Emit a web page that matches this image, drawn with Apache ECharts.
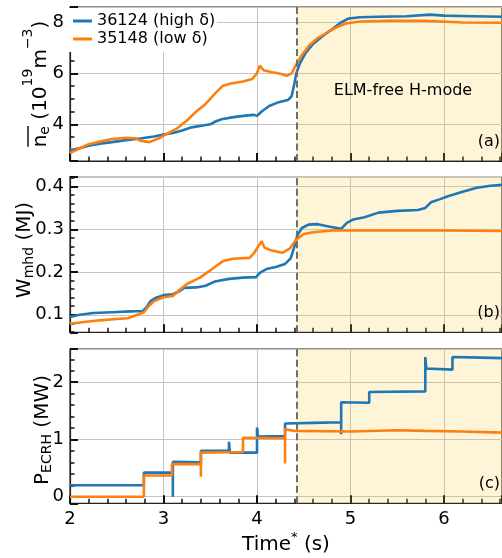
<!DOCTYPE html>
<html>
<head>
<meta charset="utf-8">
<script src="https://cdn.jsdelivr.net/npm/echarts@6/dist/echarts.min.js"></script>
<style>html,body{margin:0;padding:0;background:#fff}#c{width:502px;height:558px}</style>
</head>
<body>
<div id="c"></div>
<script>
// ---------- data ----------
const seriesNames = ['36124 (high δ)', '35148 (low δ)'];
const hModeStart = 4.42;
const xRange = [2, 6.62];

// panel (a): line-averaged density, 10^19 m^-3
const neHigh = [[2.0,2.98],[2.1,3.06],[2.2,3.16],[2.32,3.24],[2.45,3.3],[2.6,3.38],[2.75,3.44],[2.9,3.52],[3.0,3.6],[3.1,3.66],[3.2,3.76],[3.3,3.88],[3.42,3.95],[3.5,4.0],[3.55,4.1],[3.62,4.2],[3.75,4.28],[3.9,4.35],[3.97,4.37],[4.0,4.33],[4.05,4.5],[4.13,4.72],[4.22,4.85],[4.33,4.95],[4.37,5.1],[4.4,5.6],[4.42,6.0],[4.46,6.4],[4.52,6.8],[4.6,7.15],[4.7,7.45],[4.81,7.75],[4.9,8.0],[4.98,8.15],[5.1,8.2],[5.3,8.22],[5.6,8.24],[5.85,8.3],[6.0,8.26],[6.3,8.24],[6.62,8.22]];
const neLow = [[2.0,2.87],[2.1,3.05],[2.2,3.22],[2.32,3.32],[2.45,3.42],[2.6,3.47],[2.7,3.45],[2.75,3.36],[2.85,3.3],[2.95,3.45],[3.05,3.65],[3.15,3.85],[3.25,4.15],[3.35,4.5],[3.45,4.8],[3.55,5.2],[3.63,5.5],[3.72,5.6],[3.85,5.68],[3.95,5.78],[4.0,6.0],[4.03,6.3],[4.07,6.12],[4.15,6.05],[4.25,5.98],[4.32,5.9],[4.37,6.0],[4.42,6.35],[4.48,6.72],[4.56,7.1],[4.65,7.38],[4.75,7.6],[4.85,7.8],[4.95,7.95],[5.1,8.03],[5.4,8.06],[5.8,8.06],[6.2,7.99],[6.62,7.98]];

// panel (b): stored energy, MJ
const wHigh = [[2.0,0.095],[2.1,0.1],[2.25,0.104],[2.45,0.106],[2.65,0.108],[2.78,0.109],[2.82,0.118],[2.86,0.132],[2.92,0.14],[3.0,0.146],[3.1,0.148],[3.17,0.155],[3.22,0.163],[3.35,0.164],[3.45,0.168],[3.55,0.178],[3.7,0.184],[3.85,0.187],[3.99,0.188],[4.03,0.198],[4.1,0.207],[4.2,0.212],[4.3,0.219],[4.36,0.232],[4.4,0.26],[4.43,0.285],[4.48,0.303],[4.55,0.311],[4.65,0.312],[4.78,0.306],[4.9,0.301],[4.96,0.315],[5.03,0.323],[5.15,0.328],[5.3,0.339],[5.5,0.343],[5.72,0.345],[5.8,0.35],[5.86,0.363],[5.95,0.37],[6.05,0.378],[6.2,0.388],[6.35,0.397],[6.5,0.402],[6.62,0.404]];
const wLow = [[2.0,0.079],[2.15,0.083],[2.32,0.087],[2.5,0.09],[2.62,0.092],[2.72,0.1],[2.79,0.106],[2.84,0.12],[2.9,0.132],[3.0,0.141],[3.1,0.144],[3.17,0.158],[3.25,0.172],[3.39,0.187],[3.5,0.204],[3.64,0.226],[3.74,0.231],[3.92,0.233],[3.97,0.245],[4.02,0.262],[4.05,0.272],[4.08,0.257],[4.15,0.251],[4.27,0.245],[4.35,0.255],[4.42,0.276],[4.5,0.289],[4.6,0.293],[4.8,0.297],[5.3,0.297],[6.0,0.297],[6.62,0.296]];

// panel (c): ECRH power, MW
const pHigh = [[2.0,0.2],[2.79,0.2],[2.79,0.42],[3.1,0.42],[3.1,0.0],[3.1,0.61],[3.4,0.6],[3.4,0.8],[3.7,0.8],[3.7,0.96],[3.71,0.77],[4.0,0.77],[4.0,1.21],[4.01,1.05],[4.3,1.06],[4.3,1.28],[4.6,1.29],[4.9,1.3],[4.9,1.09],[4.9,1.65],[5.2,1.64],[5.2,1.83],[5.8,1.84],[5.8,2.44],[5.81,2.24],[6.09,2.22],[6.09,2.44],[6.4,2.43],[6.62,2.42]];
const pLow = [[2.0,0.0],[2.79,0.0],[2.79,0.37],[3.09,0.37],[3.09,0.57],[3.4,0.57],[3.4,0.35],[3.4,0.77],[3.85,0.78],[3.85,1.03],[4.3,1.02],[4.3,0.58],[4.3,1.18],[4.4,1.15],[5.0,1.14],[5.5,1.16],[5.8,1.15],[6.2,1.14],[6.62,1.12]];

const yRanges = [[2.56, 8.6], [0.059, 0.423], [-0.115, 2.58]];
const yIntervals = [2, 0.1, 1];
const yMinorSplits = [4, 5, 5];
const panelTags = ['(a)', '(b)', '(c)'];

// ---------- layout ----------
const FONT = 'DejaVu Sans';
const grids = [
  {left: 70, top: 7, width: 432, height: 154},
  {left: 70, top: 176.7, width: 432, height: 155.6},
  {left: 70, top: 349, width: 432, height: 154.3}
];
const BLUE = '#1f77b4', ORANGE = '#ff7f0e';

function tickStyle() { return {show: true, inside: true, length: 8, lineStyle: {color: '#111', width: 2}}; }
function minorStyle(n) { return {show: true, splitNumber: n, length: 4.5, lineStyle: {color: '#111', width: 1.5}}; }
function axisLineStyle() { return {show: true, onZero: false, lineStyle: {color: '#222', width: 1.2}}; }
function splitStyle() { return {show: true, lineStyle: {color: '#c4c4c4', width: 1}}; }

const xAxes = [], yAxes = [], series = [];
grids.forEach((g, i) => {
  const isLast = i === grids.length - 1;
  xAxes.push({
    type: 'value', gridIndex: i, min: xRange[0], max: xRange[1],
    minInterval: 1, maxInterval: 1,
    axisLine: axisLineStyle(),
    axisTick: tickStyle(), minorTick: minorStyle(5),
    splitLine: splitStyle(),
    axisLabel: {show: isLast, showMaxLabel: false, fontSize: 18, fontFamily: FONT, color: '#000', margin: 7},
    name: isLast ? '{m|Time}{sup|*}{m| (s)}' : '',
    nameLocation: 'middle', nameGap: 28,
    nameTextStyle: {rich: {
      m: {fontSize: 20, fontFamily: FONT, color: '#000', lineHeight: 26},
      sup: {fontSize: 13, fontFamily: FONT, color: '#000', verticalAlign: 'top', lineHeight: 10}
    }}
  });
  yAxes.push({
    type: 'value', gridIndex: i, min: yRanges[i][0], max: yRanges[i][1],
    minInterval: yIntervals[i], maxInterval: yIntervals[i],
    axisLine: axisLineStyle(),
    axisTick: tickStyle(),
    minorTick: minorStyle(yMinorSplits[i]),
    splitLine: splitStyle(),
    axisLabel: {showMinLabel: false, showMaxLabel: false, fontSize: 18, fontFamily: FONT, color: '#000', margin: 6}
  });
});

const panelData = [[neHigh, neLow], [wHigh, wLow], [pHigh, pLow]];
panelData.forEach((pair, i) => {
  pair.forEach((d, k) => {
    const s = {
      type: 'line', name: seriesNames[k], data: d,
      xAxisIndex: i, yAxisIndex: i,
      showSymbol: false, symbol: 'none',
      lineStyle: {color: k === 0 ? BLUE : ORANGE, width: 2.6},
      itemStyle: {color: k === 0 ? BLUE : ORANGE},
      z: 3 + k, animation: false
    };
    if (k === 0) {
      s.markArea = {silent: true, itemStyle: {color: 'rgba(250,200,40,0.18)'},
        data: [[{xAxis: hModeStart}, {xAxis: xRange[1]}]]};
      s.markLine = {silent: true, symbol: 'none', animation: false, label: {show: false},
        lineStyle: {type: [7, 3.5], color: '#6e6e6e', width: 2},
        data: [{xAxis: hModeStart}]};
    }
    series.push(s);
  });
});

// ---------- y labels (rotated pieces, overline on n_e) ----------
const meas = document.createElement('canvas').getContext('2d');
function tw(t, size) { meas.font = size + 'px "' + FONT + '"'; return meas.measureText(t).width; }
const SIZE = {m: 20, s: 14, p: 14};
const OFFSET = {m: 0, s: 4.1, p: -12.9};
const labelA = [['m', 'n'], ['s', 'e'], ['m', ' (10'], ['p', '19'], ['m', 'm'], ['p', '\u22123'], ['m', ')']];
const labelB = [['m', 'W'], ['s', 'mhd'], ['m', ' (MJ)']];
const labelC = [['m', 'P'], ['s', 'ECRH'], ['m', ' (MW)']];

function yLabel(parts, x, y, overlineCount) {
  const widths = parts.map(p => tw(p[1], SIZE[p[0]]));
  const total = widths.reduce((a, b) => a + b, 0);
  let cx = -total / 2;
  const children = [];
  parts.forEach((p, j) => {
    children.push({type: 'text', x: cx, y: OFFSET[p[0]], style: {
      text: p[1], font: SIZE[p[0]] + 'px "' + FONT + '"', fill: '#000', align: 'left', verticalAlign: 'middle'}});
    cx += widths[j];
  });
  if (overlineCount) {
    let len = 0;
    for (let j = 0; j < overlineCount; j++) len += widths[j];
    children.push({type: 'line', shape: {x1: -total / 2 + 0.5, y1: -13, x2: -total / 2 + len, y2: -13},
      style: {stroke: '#000', lineWidth: 1.4}});
  }
  return {type: 'group', x: x, y: y, rotation: Math.PI / 2, children: children};
}
const graphics = [
  yLabel(labelA, 41, 84, 2),
  yLabel(labelB, 25, 250, 0),
  yLabel(labelC, 43, 430, 0),
  {type: 'text', x: 403, y: 91, style: {text: 'ELM-free H-mode', font: '16px "' + FONT + '"', fill: '#000', align: 'center', verticalAlign: 'middle'}, z: 10}
];
const tagY = [142, 313, 484];
panelTags.forEach((t, i) => graphics.push({type: 'text', x: 500, y: tagY[i], style: {text: t, font: '16px "' + FONT + '"', fill: '#000', align: 'right', verticalAlign: 'middle'}, z: 10}));

const chart = echarts.init(document.getElementById('c'), null, {renderer: 'canvas'});
chart.setOption({
  animation: false,
  grid: grids.map(g => Object.assign({show: true, borderColor: '#222', borderWidth: 1.2, backgroundColor: 'rgba(0,0,0,0)'}, g)),
  xAxis: xAxes,
  yAxis: yAxes,
  legend: {
    orient: 'vertical', left: 69, top: 8, padding: [4, 2, 4, 4], backgroundColor: '#fff',
    itemWidth: 19, itemHeight: 3, itemGap: 0, icon: 'rect',
    textStyle: {fontSize: 16, fontFamily: FONT, color: '#000', lineHeight: 18},
    data: seriesNames
  },
  graphic: graphics,
  series: series
});
</script>
</body>
</html>
